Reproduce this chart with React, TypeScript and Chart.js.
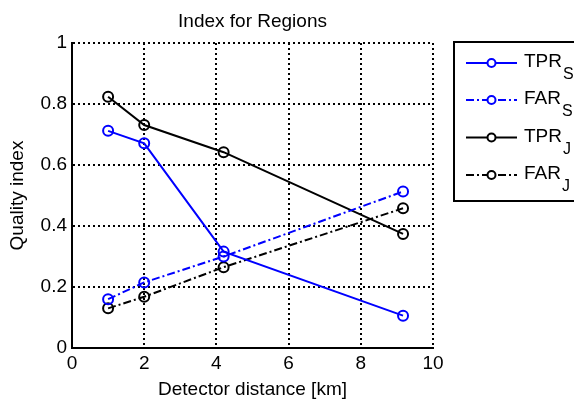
import React, { useEffect, useRef } from "react";
import { Chart, registerables } from "chart.js";

Chart.register(...registerables);

const distances = [1, 2, 4.2, 9.17];
const tprS = [0.712, 0.671, 0.316, 0.106];
const farS = [0.16, 0.215, 0.3, 0.513];
const tprJ = [0.824, 0.731, 0.642, 0.374];
const farJ = [0.13, 0.168, 0.265, 0.458];
const legendMain = ["TPR", "FAR", "TPR", "FAR"];
const legendSub = ["S", "S", "J", "J"];

const BLUE = "#0000ff";
const BLACK = "#000000";
const DASHDOT = [8, 3, 2, 3];
const FONT = "'Liberation Sans', Arial, Helvetica, sans-serif";

const pts = (ys: number[]) => ys.map((y, i) => ({ x: distances[i], y }));

const legendPlugin = {
  id: "matlabLegend",
  afterDraw(chart: any) {
    const ctx = chart.ctx as CanvasRenderingContext2D;
    ctx.save();
    ctx.lineWidth = 2;
    ctx.strokeStyle = BLACK;
    ctx.setLineDash([]);
    ctx.strokeRect(454, 42, 200, 159);
    const ys = [63, 100, 137.5, 175];
    const colors = [BLUE, BLUE, BLACK, BLACK];
    const dashes = [[], DASHDOT, [], DASHDOT];
    for (let i = 0; i < 4; i++) {
      const y = ys[i];
      ctx.strokeStyle = colors[i];
      ctx.lineWidth = 2;
      ctx.setLineDash(dashes[i] as number[]);
      ctx.beginPath();
      ctx.moveTo(466, y);
      ctx.lineTo(517, y);
      ctx.stroke();
      ctx.setLineDash([]);
      ctx.beginPath();
      ctx.arc(491.5, y, 4, 0, Math.PI * 2);
      ctx.fillStyle = "#ffffff";
      ctx.fill();
      ctx.stroke();
      ctx.fillStyle = BLACK;
      ctx.textBaseline = "alphabetic";
      ctx.textAlign = "left";
      ctx.font = `19px ${FONT}`;
      ctx.fillText(legendMain[i], 524, y + 4);
      const w = ctx.measureText(legendMain[i]).width;
      ctx.font = `16px ${FONT}`;
      ctx.fillText(legendSub[i], 524 + w + 1, y + 16);
    }
    ctx.restore();
  },
};

export default function App() {
  const ref = useRef<HTMLCanvasElement>(null);
  useEffect(() => {
    document.body.style.margin = "0";
    Chart.defaults.font.family = FONT;
    Chart.defaults.color = BLACK;
    const ds = (label: string, data: number[], color: string, dash: number[]) => ({
      label,
      data: pts(data),
      borderColor: color,
      backgroundColor: "transparent",
      borderWidth: 2,
      borderDash: dash,
      pointRadius: 5,
      pointBorderWidth: 2,
      pointBorderColor: color,
      pointBackgroundColor: "transparent",
      tension: 0,
    });
    const chart = new Chart(ref.current!, {
      type: "line",
      data: {
        datasets: [
          ds("TPR_S", tprS, BLUE, []),
          ds("FAR_S", farS, BLUE, DASHDOT),
          ds("TPR_J", tprJ, BLACK, []),
          ds("FAR_J", farJ, BLACK, DASHDOT),
        ],
      },
      options: {
        animation: false,
        responsive: false,
        devicePixelRatio: 1,
        layout: { padding: { left: 0, right: 141, top: 0, bottom: 0 } },
        plugins: {
          legend: { display: false },
          tooltip: { enabled: false },
          title: {
            display: true,
            text: "Index for Regions",
            fullSize: false,
            color: BLACK,
            font: { size: 19, weight: "normal", family: FONT },
            padding: { top: 10, bottom: 10.2 },
          },
        },
        scales: {
          x: {
            type: "linear",
            min: 0,
            max: 10,
            ticks: { stepSize: 2, padding: 4, font: { size: 19 }, color: BLACK },
            grid: { color: BLACK, lineWidth: 2, drawTicks: false },
            border: { display: true, color: BLACK, width: 2, dash: [2, 3] },
            title: {
              display: true,
              text: "Detector distance [km]",
              font: { size: 19 },
              color: BLACK,
              padding: { top: 0, bottom: 0 },
            },
            afterFit: (s: any) => {
              s.height = 53;
            },
          },
          y: {
            type: "linear",
            min: 0,
            max: 1,
            ticks: {
              stepSize: 0.2,
              padding: 5,
              font: { size: 19 },
              color: BLACK,
              callback: (v: any) => String(Math.round(Number(v) * 10) / 10),
            },
            grid: { color: BLACK, lineWidth: 2, drawTicks: false },
            border: { display: true, color: BLACK, width: 2, dash: [2, 3] },
            title: {
              display: true,
              text: "Quality index",
              font: { size: 19 },
              color: BLACK,
              padding: { top: 6, bottom: 0 },
            },
            afterFit: (s: any) => {
              s.width = 72;
            },
          },
        },
      } as any,
      plugins: [legendPlugin],
    });
    return () => chart.destroy();
  }, []);
  return (
    <div style={{ position: "absolute", left: 0, top: 0, width: 574, height: 401, background: "#fff" }}>
      <canvas ref={ref} width={574} height={401} style={{ display: "block" }} />
    </div>
  );
}
